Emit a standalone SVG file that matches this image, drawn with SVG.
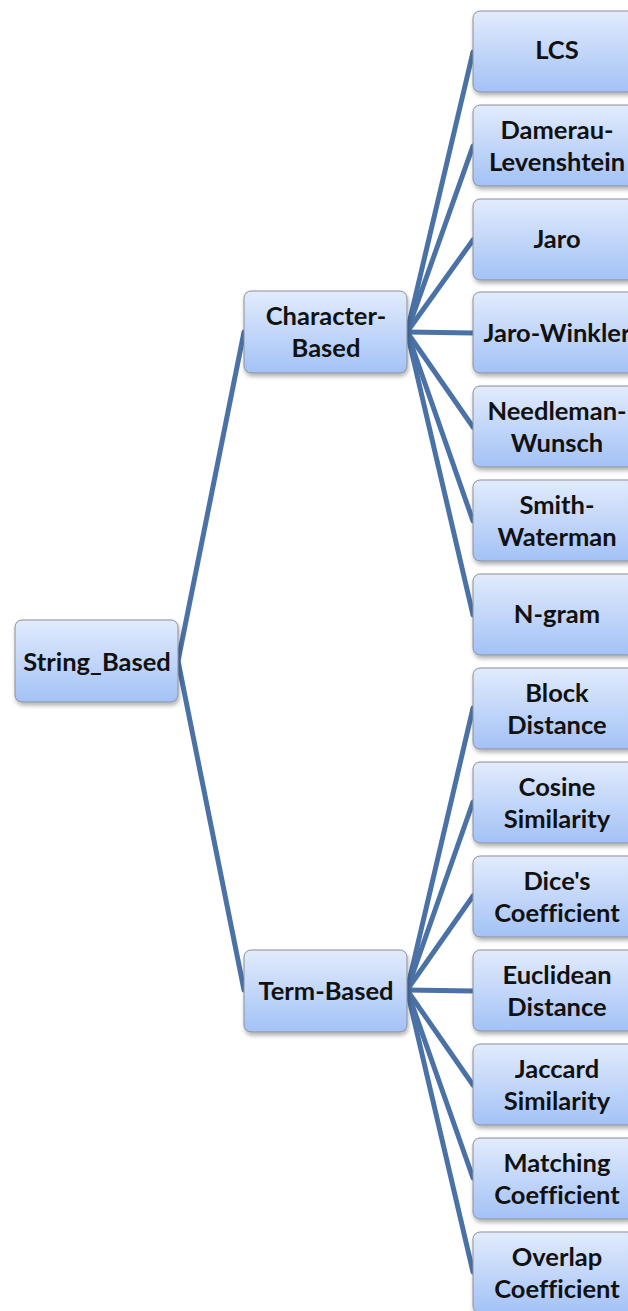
<svg xmlns="http://www.w3.org/2000/svg" width="628" height="1311" viewBox="0 0 628 1311">
  <defs>
    <linearGradient id="boxFill" x1="0" y1="0" x2="0" y2="1">
      <stop offset="0" stop-color="#e2ebfc"/>
      <stop offset="1" stop-color="#a3c2f6"/>
    </linearGradient>
    <filter id="shadow" x="-10%" y="-10%" width="125%" height="130%">
      <feDropShadow dx="1" dy="3" stdDeviation="2" flood-color="#000" flood-opacity="0.3"/>
    </filter>
  </defs>
  <style>
    .box { fill: url(#boxFill); stroke: #8a8f99; stroke-width: 1; filter: url(#shadow); }
    .lbl { font-family: Lato, "Liberation Sans", sans-serif; font-weight: bold; font-size: 25.5px; fill: #111; text-anchor: middle; font-variant-ligatures: none; }
    .edge { stroke: #4a72a6; stroke-width: 5; fill: none; stroke-linecap: round; }
  </style>
  <rect width="628" height="1311" fill="#ffffff"/>

  <!-- connectors -->
  <g id="connectors">
    <path class="edge" d="M178 661 L244 332"/>
    <path class="edge" d="M178 661 L244 990"/>
    <path class="edge" d="M407 332 L473 52"/>
    <path class="edge" d="M407 332 L473 146"/>
    <path class="edge" d="M407 332 L473 240"/>
    <path class="edge" d="M407 332 L473 333"/>
    <path class="edge" d="M407 332 L473 427"/>
    <path class="edge" d="M407 332 L473 521"/>
    <path class="edge" d="M407 332 L473 615"/>
    <path class="edge" d="M407 990 L473 708"/>
    <path class="edge" d="M407 990 L473 802"/>
    <path class="edge" d="M407 990 L473 896"/>
    <path class="edge" d="M407 990 L473 991"/>
    <path class="edge" d="M407 990 L473 1085"/>
    <path class="edge" d="M407 990 L473 1178"/>
    <path class="edge" d="M407 990 L473 1272"/>
  </g>

  <!-- root -->
  <g id="string-based">
    <rect class="box" x="15" y="620" width="163" height="82" rx="7"/>
    <text class="lbl" x="97" y="671">String_Based</text>
  </g>

  <!-- second level -->
  <g id="character-based">
    <rect class="box" x="244" y="291" width="163" height="82" rx="7"/>
    <text class="lbl" x="326" y="325">Character-</text>
    <text class="lbl" x="326" y="357">Based</text>
  </g>
  <g id="term-based">
    <rect class="box" x="244" y="950" width="163" height="82" rx="7"/>
    <text class="lbl" x="326" y="1000">Term-Based</text>
  </g>

  <!-- character-based measures -->
  <g id="lcs">
    <rect class="box" x="473" y="11" width="163" height="81" rx="7"/>
    <text class="lbl" x="557" y="59">LCS</text>
  </g>
  <g id="damerau-levenshtein">
    <rect class="box" x="473" y="105" width="163" height="81" rx="7"/>
    <text class="lbl" x="557" y="139">Damerau-</text>
    <text class="lbl" x="557" y="171">Levenshtein</text>
  </g>
  <g id="jaro">
    <rect class="box" x="473" y="199" width="163" height="81" rx="7"/>
    <text class="lbl" x="557" y="248">Jaro</text>
  </g>
  <g id="jaro-winkler">
    <rect class="box" x="473" y="292" width="163" height="81" rx="7"/>
    <text class="lbl" x="557" y="342">Jaro-Winkler</text>
  </g>
  <g id="needleman-wunsch">
    <rect class="box" x="473" y="386" width="163" height="81" rx="7"/>
    <text class="lbl" x="557" y="420">Needleman-</text>
    <text class="lbl" x="557" y="452">Wunsch</text>
  </g>
  <g id="smith-waterman">
    <rect class="box" x="473" y="480" width="163" height="81" rx="7"/>
    <text class="lbl" x="557" y="514">Smith-</text>
    <text class="lbl" x="557" y="546">Waterman</text>
  </g>
  <g id="n-gram">
    <rect class="box" x="473" y="574" width="163" height="81" rx="7"/>
    <text class="lbl" x="557" y="623">N-gram</text>
  </g>

  <!-- term-based measures -->
  <g id="block-distance">
    <rect class="box" x="473" y="668" width="163" height="81" rx="7"/>
    <text class="lbl" x="557" y="702">Block</text>
    <text class="lbl" x="557" y="734">Distance</text>
  </g>
  <g id="cosine-similarity">
    <rect class="box" x="473" y="762" width="163" height="81" rx="7"/>
    <text class="lbl" x="557" y="796">Cosine</text>
    <text class="lbl" x="557" y="828">Similarity</text>
  </g>
  <g id="dice-coefficient">
    <rect class="box" x="473" y="856" width="163" height="81" rx="7"/>
    <text class="lbl" x="557" y="890">Dice's</text>
    <text class="lbl" x="557" y="922">Coefficient</text>
  </g>
  <g id="euclidean-distance">
    <rect class="box" x="473" y="950" width="163" height="81" rx="7"/>
    <text class="lbl" x="557" y="984">Euclidean</text>
    <text class="lbl" x="557" y="1016">Distance</text>
  </g>
  <g id="jaccard-similarity">
    <rect class="box" x="473" y="1044" width="163" height="81" rx="7"/>
    <text class="lbl" x="557" y="1078">Jaccard</text>
    <text class="lbl" x="557" y="1110">Similarity</text>
  </g>
  <g id="matching-coefficient">
    <rect class="box" x="473" y="1138" width="163" height="81" rx="7"/>
    <text class="lbl" x="557" y="1172">Matching</text>
    <text class="lbl" x="557" y="1204">Coefficient</text>
  </g>
  <g id="overlap-coefficient">
    <rect class="box" x="473" y="1232" width="163" height="81" rx="7"/>
    <text class="lbl" x="557" y="1266">Overlap</text>
    <text class="lbl" x="557" y="1298">Coefficient</text>
  </g>
</svg>
